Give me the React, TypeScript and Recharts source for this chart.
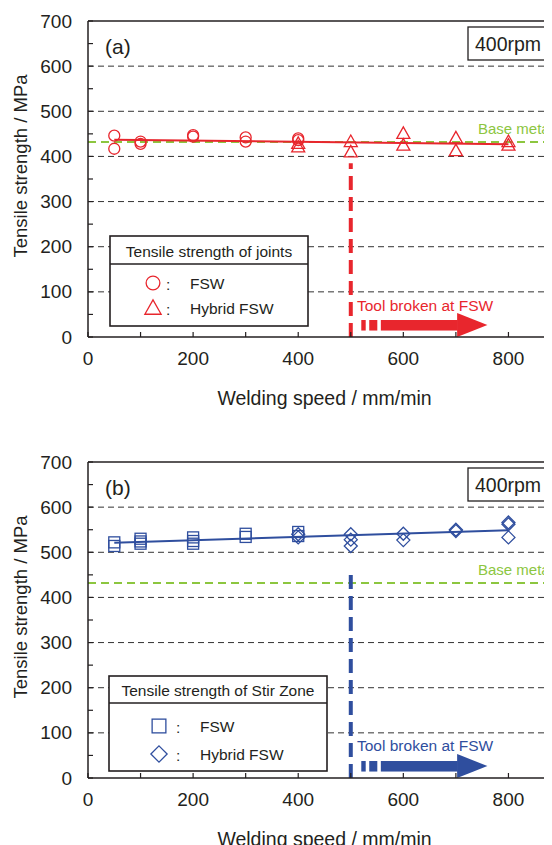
import { ScatterChart, Scatter, XAxis, YAxis, ReferenceLine, ReferenceArea } from "recharts";

const FONT = '"Liberation Sans", Arial, sans-serif';
const INK = "#231f20";
const RED = "#e8262d";
const BLUE = "#2f4e9e";
const GREEN = "#8cc63f";

const SPEED_TICKS = [0, 100, 200, 300, 400, 500, 600, 700, 800, 900];
const STRENGTH_TICKS = [0, 50, 100, 150, 200, 250, 300, 350, 400, 450, 500, 550, 600, 650, 700];
const GRID_LINES = [100, 200, 300, 400, 500, 600];
const BASE_METAL = 432;
const BROKEN_SPEED = 500;

// (a) joints
const fswJointSpeed = [50, 50, 100, 100, 200, 200, 300, 300, 400, 400];
const fswJointStrength = [446, 417, 433, 428, 447, 444, 442, 433, 440, 436];
const hybridJointSpeed = [400, 400, 500, 500, 600, 600, 700, 700, 800, 800];
const hybridJointStrength = [429, 421, 433, 410, 451, 425, 441, 413, 433, 425];
const jointFit = [
  { x: 50, y: 437 },
  { x: 800, y: 427 },
];

// (b) stir zone
const fswSzSpeed = [50, 50, 100, 100, 100, 200, 200, 200, 300, 300, 400, 400];
const fswSzStrength = [522, 514, 530, 524, 519, 533, 525, 519, 541, 534, 545, 536];
const hybridSzSpeed = [400, 400, 500, 500, 500, 600, 600, 700, 700, 800, 800, 800];
const hybridSzStrength = [540, 533, 540, 528, 514, 541, 527, 550, 547, 566, 562, 533];
const szFit = [
  { x: 50, y: 521 },
  { x: 800, y: 549 },
];

const toPoints = (xs: number[], ys: number[]) => xs.map((speed, i) => ({ speed, strength: ys[i] }));

type MarkerKind = "circle" | "triangle" | "square" | "diamond";

function marker(kind: MarkerKind, cx: number, cy: number, color: string, s = 1) {
  const common = { fill: "none", stroke: color, strokeWidth: 1.3 };
  if (kind === "circle") return <circle cx={cx} cy={cy} r={5.5 * s} {...common} />;
  if (kind === "triangle")
    return (
      <polygon
        points={`${cx},${cy - 6.5 * s} ${cx - 6.5 * s},${cy + 5 * s} ${cx + 6.5 * s},${cy + 5 * s}`}
        {...common}
      />
    );
  if (kind === "square") return <rect x={cx - 5.5 * s} y={cy - 5.5 * s} width={11 * s} height={11 * s} {...common} />;
  return (
    <polygon
      points={`${cx},${cy - 6.5 * s} ${cx + 6.5 * s},${cy} ${cx},${cy + 6.5 * s} ${cx - 6.5 * s},${cy}`}
      {...common}
    />
  );
}

function YTick({ x, y, payload }: any) {
  const v = payload.value;
  return (
    <g>
      <line x1={x} x2={x + 5} y1={y} y2={y} stroke={INK} strokeWidth={1.2} />
      {v % 100 === 0 && (
        <text x={x - 16} y={y} textAnchor="end" dominantBaseline="central" fontSize={19} fontFamily={FONT} fill={INK}>
          {v}
        </text>
      )}
    </g>
  );
}

function XTick({ x, y, payload }: any) {
  const v = payload.value;
  return (
    <g>
      <line x1={x} x2={x} y1={y} y2={y - 5} stroke={INK} strokeWidth={1.2} />
      {v % 200 === 0 && (
        <text x={x} y={y + 21} textAnchor="middle" dominantBaseline="central" fontSize={19} fontFamily={FONT} fill={INK}>
          {v}
        </text>
      )}
    </g>
  );
}

function Arrow(color: string) {
  return (props: any) => {
    const { x, y, width: w, height: h } = props;
    const by = y + h * 0.29;
    const bh = h * 0.44;
    return (
      <g fill={color}>
        <rect x={x} y={by} width={w * 0.035} height={bh} />
        <rect x={x + w * 0.063} y={by} width={w * 0.064} height={bh} />
        <rect x={x + w * 0.155} y={by} width={w * 0.61} height={bh} />
        <polygon points={`${x + w * 0.76},${y} ${x + w},${y + h / 2} ${x + w * 0.76},${y + h}`} />
      </g>
    );
  };
}

interface PanelProps {
  top: number;
  tag: string;
  color: string;
  legendTitle: string;
  legendBox: { x: number; y: number; w: number; h: number; head: number; mx: number; colon: number; tx: number; r1: number; r2: number };
  series: { name: string; kind: MarkerKind; data: { speed: number; strength: number }[] }[];
  fit: { x: number; y: number }[];
  breakTop: number;
}

function Panel({ top, tag, color, legendTitle, legendBox: L, series, fit, breakTop }: PanelProps) {
  return (
    <div style={{ position: "absolute", left: 0, top, width: 563, height: 404 }}>
      <ScatterChart width={563} height={404} margin={{ top: 13, right: 10, bottom: 0, left: 0 }}>
        <XAxis
          dataKey="speed"
          type="number"
          domain={[0, 900]}
          ticks={SPEED_TICKS}
          interval={0}
          tickSize={0}
          tickMargin={0}
          tick={<XTick />}
          height={75}
          stroke={INK}
          strokeWidth={1.5}
          label={{ value: "Welding speed / mm/min", position: "insideBottom", offset: 7, fontSize: 19.5, fontFamily: FONT, fill: INK }}
        />
        <YAxis
          dataKey="strength"
          type="number"
          domain={[0, 700]}
          ticks={STRENGTH_TICKS}
          interval={0}
          tickSize={0}
          tickMargin={0}
          tick={<YTick />}
          width={80}
          stroke={INK}
          strokeWidth={1.5}
          label={() => (
            <text x={12} y={158} transform="rotate(-90 12 158)" textAnchor="middle" dominantBaseline="central" fontSize={18.5} fontFamily={FONT} fill={INK}>
              Tensile strength / MPa
            </text>
          )}
        />
        {GRID_LINES.map((g) => (
          <ReferenceLine key={g} y={g} stroke="#333" strokeWidth={1} strokeDasharray="6 4" />
        ))}
        <ReferenceLine y={700} stroke={INK} strokeWidth={1.5} />
        <ReferenceLine x={900} stroke={INK} strokeWidth={1.5} />
        <ReferenceLine
          y={BASE_METAL}
          stroke={GREEN}
          strokeWidth={2}
          strokeDasharray="8 5"
          label={{ value: "Base metal", position: "insideBottomRight", offset: 8, fontSize: 15, fontFamily: FONT, fill: GREEN }}
        />
        <ReferenceLine
          segment={[
            { x: BROKEN_SPEED, y: 0 },
            { x: BROKEN_SPEED, y: breakTop },
          ]}
          stroke={color}
          strokeWidth={4}
          strokeDasharray="14 7"
        />
        <ReferenceArea x1={520} x2={760} y1={0} y2={53} ifOverflow="visible" shape={Arrow(color)} />
        <ReferenceLine segment={fit} stroke={color} strokeWidth={2} />
        {series.map((s) => (
          <Scatter
            key={s.name}
            name={s.name}
            data={s.data}
            isAnimationActive={false}
            shape={(p: any) => marker(s.kind, p.cx, p.cy, color)}
          />
        ))}
      </ScatterChart>
      <svg width={563} height={404} style={{ position: "absolute", left: 0, top: 0, pointerEvents: "none" }} fontFamily={FONT}>
        <text x={97} y={38} fontSize={21} fill={INK} dominantBaseline="central">
          {tag}
        </text>
        <rect x={460} y={19} width={100} height={33} fill="#fff" stroke={INK} strokeWidth={1.3} />
        <text x={467} y={36} fontSize={19.5} fill={INK} dominantBaseline="central">
          400rpm
        </text>
        <text x={349} y={L.y + 69} fontSize={15.5} fill={color} dominantBaseline="central">
          Tool broken at FSW
        </text>
        <g transform={`translate(${L.x},${L.y})`}>
          <rect x={0} y={0} width={L.w} height={L.h} fill="#fff" stroke={INK} strokeWidth={1.6} />
          <line x1={0} x2={L.w} y1={L.head} y2={L.head} stroke={INK} strokeWidth={1.6} />
          <text x={L.w / 2} y={L.head / 2 + 1} textAnchor="middle" dominantBaseline="central" fontSize={15.5} fill={INK}>
            {legendTitle}
          </text>
          {series.map((s, i) => {
            const ry = i === 0 ? L.r1 : L.r2;
            return (
              <g key={s.name}>
                {marker(s.kind, L.mx, ry, color, 1.25)}
                <text x={L.colon} y={ry + 1} dominantBaseline="central" fontSize={15.5} fill={INK}>
                  :
                </text>
                <text x={L.tx} y={ry} dominantBaseline="central" fontSize={15.5} fill={INK}>
                  {s.name}
                </text>
              </g>
            );
          })}
        </g>
      </svg>
    </div>
  );
}

export default function App() {
  return (
    <div style={{ position: "relative", width: 544, height: 837, overflow: "hidden", background: "#fff" }}>
      <Panel
        top={0}
        tag="(a)"
        color={RED}
        legendTitle="Tensile strength of joints"
        legendBox={{ x: 102, y: 228, w: 198, h: 90, head: 28, mx: 43, colon: 56, tx: 80, r1: 47, r2: 72 }}
        series={[
          { name: "FSW", kind: "circle", data: toPoints(fswJointSpeed, fswJointStrength) },
          { name: "Hybrid FSW", kind: "triangle", data: toPoints(hybridJointSpeed, hybridJointStrength) },
        ]}
        fit={jointFit}
        breakTop={385}
      />
      <Panel
        top={441}
        tag="(b)"
        color={BLUE}
        legendTitle="Tensile strength of Stir Zone"
        legendBox={{ x: 101, y: 227, w: 218, h: 95, head: 27, mx: 50, colon: 67, tx: 91, r1: 50, r2: 78 }}
        series={[
          { name: "FSW", kind: "square", data: toPoints(fswSzSpeed, fswSzStrength) },
          { name: "Hybrid FSW", kind: "diamond", data: toPoints(hybridSzSpeed, hybridSzStrength) },
        ]}
        fit={szFit}
        breakTop={465}
      />
    </div>
  );
}
